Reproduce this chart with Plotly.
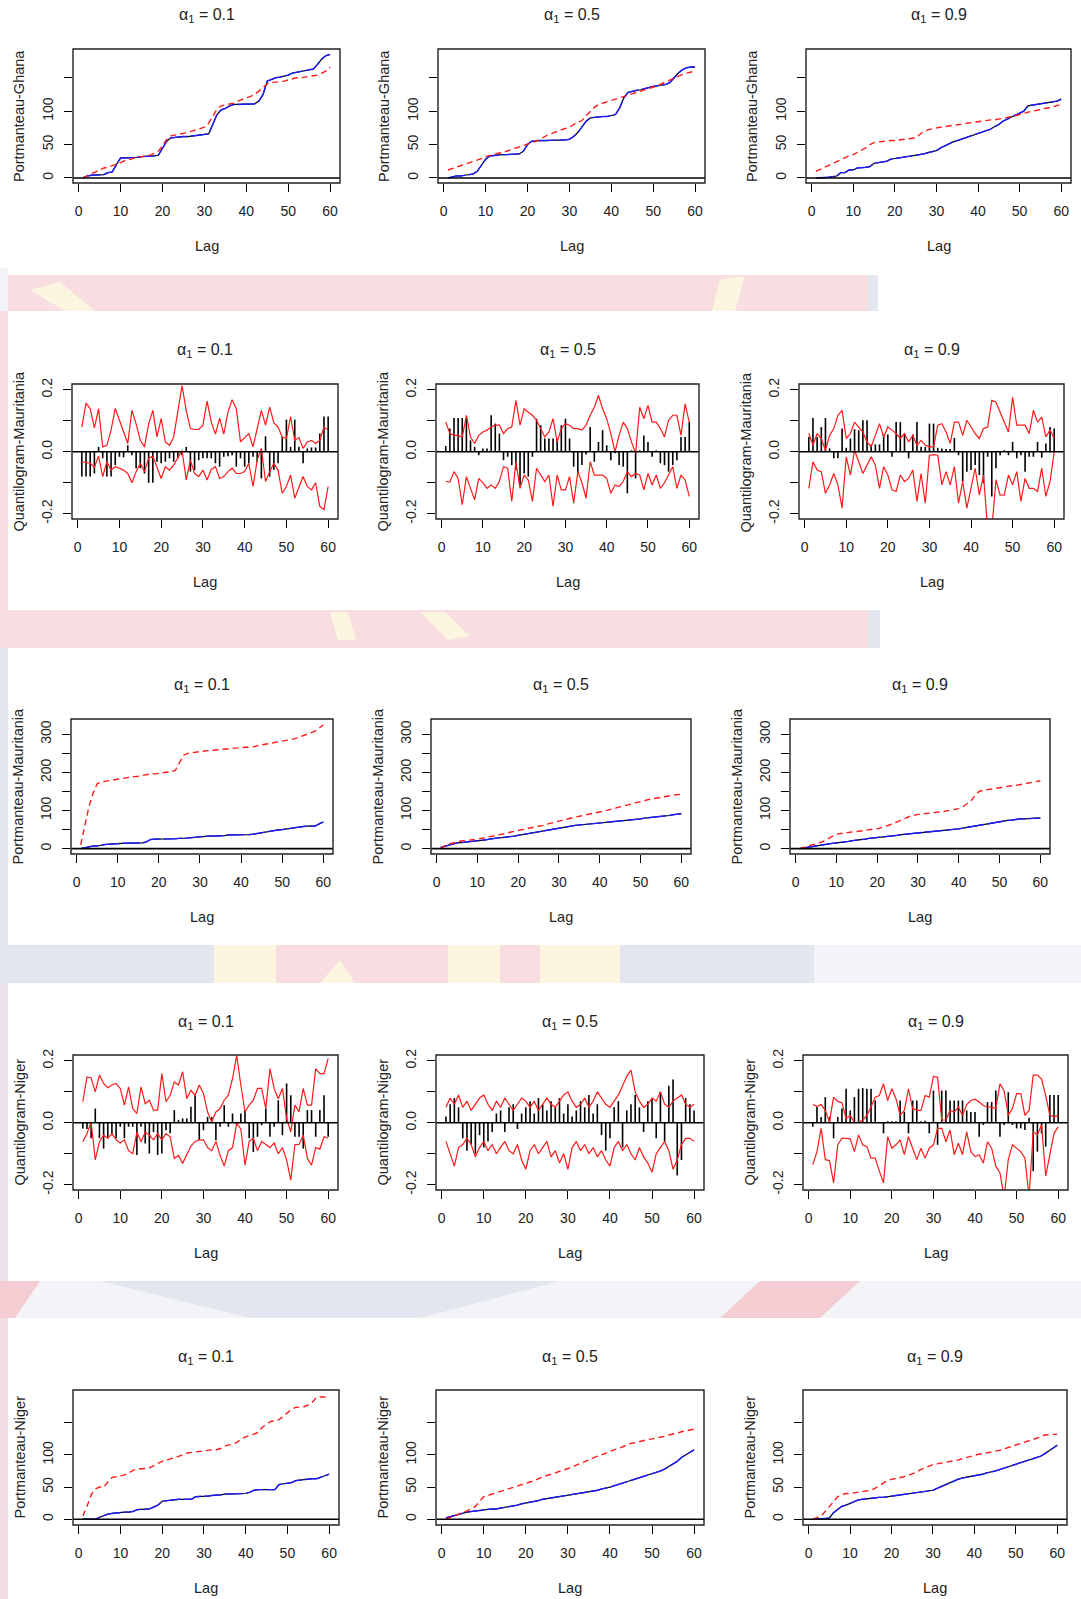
import plotly.graph_objects as go

W, H = 1081, 1599
FONT = "Liberation Sans, Arial, sans-serif"

lags = list(range(1, 61))
x_ticks = [0, 10, 20, 30, 40, 50, 60]
alphas = ["0.1", "0.5", "0.9"]

# ---------------- Portmanteau Ghana ----------------
ghana_pm_01_stat = [0,3,4,4,4,5,8,9,20,30, 30,30,31,31,32,32,32,33,34,45, 55,60,61,61,62,62,63,64,65,65,
                    66,80,95,102,104,108,110,110,110,110, 110,111,115,125,145,148,150,151,152,154, 157,158,159,160,161,163,170,178,183,185]
ghana_pm_01_crit = [0,3,6,9,12,15,16,18,20,23, 26,28,30,31,32,33,34,37,40,48, 58,63,64,65,66,68,70,72,73,76,
                    82,92,103,108,109,110,112,115,118,120, 122,125,130,136,141,143,143,144,145,147, 149,150,150,151,152,152,154,157,160,166]
ghana_pm_05_stat = [0,2,3,3,4,5,6,10,20,28, 33,34,34,35,35,35,35,36,40,50, 55,56,56,56,56,56,57,57,57,58,
                    62,68,77,85,90,91,91,92,92,93, 95,105,120,128,130,131,132,134,135,137, 138,139,140,143,150,157,162,165,166,166]
ghana_pm_05_crit = [12,14,16,18,20,22,25,27,29,32, 34,36,37,38,40,42,44,46,48,50, 53,55,58,62,65,67,70,72,74,76,
                    80,83,86,93,100,106,110,112,114,115, 117,119,121,123,125,127,129,131,133,135, 138,141,144,147,150,153,155,157,159,160]
ghana_pm_09_stat = [0,0,0,1,2,3,8,8,12,12, 15,15,16,17,22,23,24,25,28,29, 30,31,31,32,33,35,36,38,39,41,
                    45,48,52,54,56,58,60,62,64,66, 68,70,73,77,80,85,88,90,93,96, 100,108,109,110,111,112,112,113,115,118]
ghana_pm_09_crit = [10,13,16,19,22,25,28,30,33,35, 38,42,45,50,53,54,55,55,56,56, 57,58,58,59,60,65,70,72,74,75,
                    76,77,78,79,80,81,82,83,84,85, 86,86,87,87,88,89,90,92,93,95, 97,98,100,101,103,104,105,107,108,110]

# ---------------- Quantilogram Mauritania ----------------
maur_q_01_bar = [-0.08,-0.08,-0.08,-0.07,0.016,-0.021,-0.08,-0.08,-0.043,-0.016, -0.018,0.021,-0.011,-0.053,-0.053,-0.07,-0.10,-0.10,-0.032,-0.037,
                 -0.032,-0.021,-0.032,-0.021,-0.011,0.016,-0.064,-0.059,-0.027,-0.021, -0.021,-0.021,-0.037,-0.048,-0.016,-0.014,-0.011,-0.048,-0.021,-0.048,
                 -0.037,-0.016,-0.032,-0.086,0.05,-0.08,-0.059,-0.037,0.048,0.104, 0.016,0.104,0.016,-0.037,0.011,0.014,0.014,0.059,0.114,0.114]
maur_q_01_up = [0.080,0.157,0.139,0.077,0.139,0.016,0.021,0.07,0.14,0.10, 0.06,0.027,0.134,0.09,0.037,0.016,0.09,0.134,0.048,0.107,
                0.032,0.021,0.048,0.134,0.214,0.134,0.075,0.072,0.072,0.086, 0.164,0.096,0.057,0.109,0.057,0.128,0.168,0.139,0.032,0.046,
                0.059,0.016,0.07,0.134,0.086,0.144,0.093,0.08,0.048,0.043, 0.114,0.037,0.046,0.011,0.032,0.037,0.027,0.037,0.08,0.07]
maur_q_01_lo = [-0.032,-0.035,-0.037,-0.05,-0.014,-0.08,-0.032,-0.059,-0.048,-0.053, -0.059,-0.07,-0.10,-0.064,-0.037,-0.064,-0.021,-0.014,-0.05,-0.086,
                -0.048,-0.059,-0.043,-0.021,0.005,-0.091,-0.027,-0.07,-0.08,-0.059, -0.091,-0.057,-0.048,-0.086,-0.08,-0.064,-0.053,-0.07,-0.07,-0.064,
                -0.037,-0.112,-0.027,0.011,-0.096,-0.064,-0.037,-0.059,-0.134,-0.112, -0.075,-0.15,-0.118,-0.08,-0.112,-0.123,-0.10,-0.176,-0.187,-0.112]
maur_q_05_bar = [0.019,0.075,0.109,0.109,0.109,0.109,0.037,0.016,-0.011,0.011, 0.011,0.118,0.091,0.059,-0.027,-0.016,-0.043,-0.059,-0.107,-0.07,
                 -0.08,-0.016,0.107,0.086,0.043,0.043,0.043,0.043,0.086,0.107, 0.043,-0.048,-0.07,-0.043,-0.009,0.08,-0.032,0.032,0.07,0.021,
                 -0.027,-0.005,-0.043,-0.048,-0.134,0.005,-0.086,0.005,0.053,0.032, -0.016,0.005,-0.037,-0.043,-0.064,-0.043,-0.027,0.048,0.048,0.096]
maur_q_05_up = [0.096,0.059,0.053,0.053,0.048,0.118,0.048,0.027,0.053,0.064, 0.07,0.08,0.086,0.086,0.059,0.075,0.08,0.166,0.086,0.139,
                0.128,0.118,0.102,0.075,0.048,0.064,0.107,0.032,0.075,0.091, 0.086,0.075,0.075,0.07,0.086,0.118,0.144,0.182,0.139,0.107,
                0.059,0.0,0.053,0.096,0.075,0.032,-0.005,0.144,0.107,0.15, 0.096,0.096,0.075,0.048,0.102,0.118,0.118,0.053,0.155,0.096]
maur_q_05_lo = [-0.096,-0.098,-0.064,-0.086,-0.171,-0.08,-0.118,-0.155,-0.086,-0.10, -0.118,-0.107,-0.118,-0.096,-0.048,-0.053,-0.16,-0.032,-0.118,-0.075,
                -0.091,-0.16,-0.053,-0.075,-0.096,-0.075,-0.176,-0.075,-0.123,-0.123, -0.08,-0.166,-0.064,-0.10,-0.15,-0.032,-0.075,-0.075,-0.075,-0.086,
                -0.134,-0.107,-0.112,-0.096,-0.064,-0.08,-0.07,-0.075,-0.123,-0.07, -0.107,-0.075,-0.118,-0.10,-0.075,-0.048,-0.118,-0.075,-0.091,-0.144]
maur_q_09_bar = [0.048,0.109,0.048,0.08,0.109,0.011,-0.021,-0.021,0.075,0.013, 0.043,0.073,0.07,0.102,0.102,0.024,0.024,0.024,0.056,0.056,
                 -0.016,0.096,0.096,0.059,-0.021,0.056,0.096,0.016,0.016,0.091, 0.091,0.013,0.011,0.009,0.009,0.045,-0.011,-0.096,-0.064,-0.059,
                 -0.043,-0.075,-0.102,-0.016,-0.144,-0.053,-0.011,0.005,-0.011,0.032, -0.021,-0.011,-0.064,-0.016,-0.016,0.032,-0.019,0.027,0.08,0.075]
maur_q_09_up = [0.059,0.021,0.059,0.043,0.005,0.053,0.075,0.118,0.134,0.043, 0.059,0.096,0.08,0.064,0.032,0.016,0.053,0.091,0.048,0.08,
                0.07,0.059,0.043,0.059,0.032,0.053,0.021,0.037,0.021,0.016, 0.016,0.086,0.091,0.064,0.027,0.096,0.096,0.053,0.102,0.08,
                0.059,0.043,0.075,0.08,0.166,0.16,0.128,0.096,0.064,0.176, 0.086,0.086,0.086,0.059,0.134,0.096,0.112,0.048,0.07,0.043]
maur_q_09_lo = [-0.118,-0.032,-0.059,-0.064,-0.134,-0.107,-0.07,-0.107,-0.182,-0.016, -0.075,0.005,-0.032,-0.07,-0.043,-0.016,-0.043,-0.118,-0.048,-0.075,
                -0.123,-0.128,-0.075,-0.096,-0.086,-0.059,-0.16,-0.07,-0.166,-0.011, -0.009,-0.011,-0.107,-0.064,-0.107,-0.048,-0.166,-0.096,-0.182,-0.118,
                -0.053,-0.139,-0.075,-0.25,-0.25,-0.09,-0.14,-0.139,-0.075,-0.107, -0.064,-0.16,-0.086,-0.118,-0.118,-0.128,-0.053,-0.144,-0.096,0.0]

# ---------------- Portmanteau Mauritania ----------------
maur_pm_01_stat = [0,3,6,7,7,10,11,12,12,13, 14,14,15,15,15,15,18,24,25,25, 25,25,25,26,27,27,28,29,30,32,
                   33,33,33,33,34,34,36,36,37,37, 37,37,38,40,43,45,45,47,49,50, 52,54,55,56,58,59,59,59,65,70]
maur_pm_01_crit = [10,60,110,145,170,175,177,178,180,182, 183,185,187,189,190,192,195,196,196,197, 199,200,202,205,225,245,250,252,254,255,
                   256,257,258,259,260,262,263,264,265,265, 266,266,267,270,272,274,276,278,280,282, 283,285,288,292,296,300,303,308,316,325]
maur_pm_05_stat = [3,6,9,12,15,16,17,18,19,20, 22,23,25,27,28,29,30,32,33,35, 37,39,41,43,45,47,49,51,53,55,
                   56,58,59,61,62,63,64,65,67,68, 69,70,70,71,72,73,74,76,77,78, 80,81,82,84,85,86,87,89,90,92]
maur_pm_05_crit = [0,8,12,15,18,20,21,22,24,25, 27,29,31,33,35,37,40,43,46,48, 50,52,54,56,58,61,64,67,70,72,
                   75,78,80,83,85,87,89,91,93,95, 98,101,104,107,110,113,116,119,122,125, 127,129,131,133,135,137,139,141,142,142]
maur_pm_09_stat = [0,2,4,6,8,9,11,12,14,15, 16,18,19,21,22,24,25,27,28,30, 31,32,33,34,35,37,38,39,41,42,
                   43,44,45,46,47,48,49,50,51,52, 54,56,58,60,62,64,66,68,70,72, 73,74,75,77,78,78,79,79,80,80]
maur_pm_09_crit = [0,3,6,9,12,16,20,25,32,38, 40,41,42,44,45,47,48,50,51,52, 55,58,62,66,70,75,80,85,88,90,
                   91,92,93,94,95,97,99,101,103,105, 110,117,125,140,150,153,155,157,158,160, 162,163,165,166,168,170,172,174,176,178]

# ---------------- Quantilogram Niger ----------------
niger_q_01_bar = [-0.018,-0.02,-0.05,0.046,-0.05,-0.083,-0.05,-0.04,-0.05,-0.013, -0.05,-0.013,-0.013,-0.104,-0.013,-0.067,-0.099,-0.03,-0.104,-0.099,
                  -0.024,-0.034,0.041,0.009,0.014,0.014,0.052,0.089,-0.056,-0.024, 0.019,0.019,-0.056,-0.013,0.057,-0.013,0.03,-0.008,0.03,0.041,
                  -0.05,-0.094,-0.045,-0.008,0.046,-0.045,-0.013,0.073,-0.04,0.127, 0.089,-0.045,-0.045,-0.083,0.041,0.041,-0.045,0.041,0.089,-0.045]
niger_q_01_up = [0.068,0.148,0.145,0.1,0.154,0.127,0.113,0.122,0.127,0.111, 0.057,0.116,0.046,0.03,0.116,0.062,0.073,0.041,0.041,0.159,
                 0.068,0.089,0.132,0.122,0.165,0.078,0.105,0.089,0.122,0.095, 0.035,0.003,0.035,0.046,0.073,0.089,0.143,0.218,0.122,0.035,
                 0.057,0.073,0.111,0.111,0.046,0.175,0.111,0.078,0.111,0.014, -0.029,0.057,0.035,0.111,0.057,0.057,0.175,0.159,0.159,0.208]
niger_q_01_lo = [-0.061,-0.035,0.003,-0.12,-0.061,-0.04,-0.05,-0.035,-0.055,-0.065, -0.055,-0.09,-0.10,-0.03,-0.061,-0.03,-0.04,-0.055,-0.035,-0.055,
                 -0.035,-0.045,-0.115,-0.105,-0.131,-0.105,-0.075,-0.06,-0.055,-0.055, -0.08,-0.09,-0.06,-0.105,-0.14,-0.09,-0.08,-0.002,-0.02,-0.137,
                 -0.06,-0.05,-0.09,-0.06,-0.07,-0.08,-0.065,-0.1,-0.08,-0.12, -0.185,-0.07,-0.07,-0.04,-0.115,-0.137,-0.08,-0.085,-0.045,-0.05]
niger_q_05_bar = [0.02,0.06,0.08,0.05,-0.05,-0.09,-0.07,-0.10,-0.04,-0.08, -0.06,-0.03,0.03,0.04,-0.03,0.05,0.06,-0.02,0.03,0.05,
                  0.07,0.03,0.08,0.06,0.04,0.07,0.05,0.08,0.03,0.06, 0.02,0.04,0.07,0.05,0.09,0.03,0.06,-0.04,-0.09,-0.05,
                  0.05,0.07,-0.08,0.04,0.06,0.09,0.05,-0.03,0.07,0.08, -0.05,0.10,-0.06,0.12,0.14,-0.17,-0.12,0.08,0.06,0.04]
niger_q_05_up = [0.05,0.08,0.06,0.09,0.05,0.07,0.04,0.06,0.08,0.09, 0.06,0.04,0.07,0.05,0.08,0.06,0.04,0.06,0.08,0.07,
                 0.05,0.07,0.04,0.06,0.08,0.06,0.05,0.07,0.09,0.10, 0.07,0.05,0.06,0.08,0.05,0.07,0.10,0.08,0.06,0.05,
                 0.07,0.09,0.12,0.15,0.17,0.10,0.07,0.05,0.06,0.08, 0.07,0.10,0.06,0.05,0.07,0.08,0.09,0.06,0.05,0.06]
niger_q_05_lo = [-0.06,-0.10,-0.14,-0.08,-0.07,-0.05,-0.07,-0.11,-0.08,-0.06, -0.09,-0.07,-0.10,-0.08,-0.06,-0.09,-0.10,-0.07,-0.12,-0.15,
                 -0.09,-0.07,-0.10,-0.08,-0.06,-0.11,-0.09,-0.13,-0.10,-0.15, -0.08,-0.06,-0.09,-0.07,-0.10,-0.08,-0.11,-0.09,-0.12,-0.14,
                 -0.08,-0.06,-0.09,-0.07,-0.10,-0.12,-0.08,-0.11,-0.13,-0.16, -0.10,-0.08,-0.06,-0.09,-0.15,-0.12,-0.07,-0.05,-0.05,-0.06]
niger_q_09_bar = [-0.013,0.051,0.019,0.083,0.019,-0.05,0.019,0.046,0.11,0.04, 0.083,0.11,0.112,0.11,0.11,0.072,0.001,-0.034,0.005,0.005,
                  0.005,0.072,0.035,-0.034,0.072,0.072,0.005,0.007,-0.034,0.104, -0.071,0.104,0.104,0.072,0.072,0.072,0.072,0.04,0.035,0.035,
                  -0.045,-0.007,0.067,0.067,0.104,-0.045,-0.007,0.099,-0.007,-0.018, -0.018,-0.023,0.016,-0.156,-0.093,-0.034,-0.077,0.09,0.09,0.09]
niger_q_09_up = [0.059,0.053,0.059,0.04,0.003,0.083,0.069,0.065,0.014,0.024, 0.001,0.001,0.009,0.024,0.051,0.083,0.088,0.126,0.072,0.11,
                 0.078,0.024,0.04,0.11,0.046,0.04,0.04,0.088,0.083,0.15, 0.147,0.009,0.009,0.04,0.035,0.051,0.024,0.059,0.072,0.076,
                 0.067,0.056,0.051,0.051,0.046,0.126,0.104,0.024,0.046,0.094, 0.094,0.024,0.04,0.154,0.154,0.141,0.088,0.024,0.019,0.024]
niger_q_09_lo = [-0.135,-0.093,-0.018,-0.119,-0.122,-0.194,-0.071,-0.05,-0.05,-0.052, -0.093,-0.039,-0.071,-0.077,-0.114,-0.114,-0.156,-0.194,-0.045,-0.082,
                 -0.071,-0.055,-0.103,-0.045,-0.082,-0.119,-0.082,-0.114,-0.082,-0.071, -0.018,-0.018,-0.061,-0.023,-0.103,-0.066,-0.103,-0.029,-0.093,-0.109,
                 -0.103,-0.13,-0.061,-0.082,-0.14,-0.162,-0.24,-0.119,-0.071,-0.082, -0.093,-0.114,-0.24,-0.029,-0.039,-0.007,-0.172,-0.103,-0.034,-0.013]

# ---------------- Portmanteau Niger ----------------
niger_pm_01_stat = [0,0,0,0,3,6,8,9,10,10, 11,11,12,15,15,16,16,19,22,28, 29,30,30,31,31,31,31,35,35,36,
                    36,37,37,38,39,39,40,40,40,40, 42,45,46,46,46,46,46,54,55,56, 57,60,61,62,63,63,63,65,67,70]
niger_pm_01_crit = [5,20,38,47,50,50,58,65,66,67, 69,72,76,78,78,79,80,84,87,90, 92,94,95,98,100,103,104,105,106,107,
                    108,108,108,110,114,115,117,120,125,128, 130,132,135,143,148,152,153,155,160,165, 171,174,174,175,178,182,190,190,190,190]
niger_pm_05_stat = [2,4,6,8,10,11,12,13,14,15, 15,16,16,17,18,19,21,22,24,25, 26,28,29,31,32,33,34,36,37,38,
                    39,40,40,41,42,44,45,47,48,50, 52,54,56,58,60,62,64,66,68,70, 72,75,78,82,85,90,96,100,105,108]
niger_pm_05_crit = [0,2,5,8,10,13,16,20,28,35, 37,39,41,43,45,47,49,51,53,55, 58,60,63,66,68,70,72,74,76,78,
                    81,84,87,90,92,95,98,100,103,105, 108,110,113,116,118,119,121,122,124,125, 126,128,129,131,132,134,136,137,139,140]
niger_pm_09_stat = [0,0,1,1,2,10,15,20,22,25, 28,30,31,32,33,33,34,34,35,35, 36,37,38,39,40,41,42,43,44,45,
                    48,51,54,57,60,62,64,65,67,68, 69,70,72,73,75,77,79,81,83,85, 87,89,91,93,95,98,102,106,110,115]
niger_pm_09_crit = [0,2,5,12,20,28,35,38,40,40, 41,42,43,44,45,48,52,55,60,62, 63,64,66,68,70,73,77,80,83,85,
                    86,87,88,89,90,92,94,96,98,100, 101,102,103,104,105,107,109,111,113,115, 117,119,121,123,125,128,131,132,132,132]

for _arr in [ghana_pm_01_stat, ghana_pm_01_crit, ghana_pm_05_stat, ghana_pm_05_crit, ghana_pm_09_stat, ghana_pm_09_crit,
             maur_q_01_bar, maur_q_01_up, maur_q_01_lo, maur_q_05_bar, maur_q_05_up, maur_q_05_lo,
             maur_q_09_bar, maur_q_09_up, maur_q_09_lo, maur_pm_01_stat, maur_pm_01_crit, maur_pm_05_stat,
             maur_pm_05_crit, maur_pm_09_stat, maur_pm_09_crit, niger_q_01_bar, niger_q_01_up, niger_q_01_lo,
             niger_q_05_bar, niger_q_05_up, niger_q_05_lo, niger_q_09_bar, niger_q_09_up, niger_q_09_lo,
             niger_pm_01_stat, niger_pm_01_crit, niger_pm_05_stat, niger_pm_05_crit, niger_pm_09_stat, niger_pm_09_crit]:
    assert len(_arr) == 60, len(_arr)

# y-axis set-ups per row type
ghana_pm_ticks = ([0, 50, 100, 150], ["0", "50", "100", ""])
maur_pm_ticks = ([0, 50, 100, 150, 200, 250, 300], ["0", "", "100", "", "200", "", "300"])
niger_pm_ticks = ([0, 50, 100, 150], ["0", "50", "100", ""])
quant_ticks = ([-0.2, -0.1, 0.0, 0.1, 0.2], ["-0.2", "", "0.0", "", "0.2"])

rows = [
    dict(kind="pm", ylabel="Portmanteau-Ghana", yrange=[-7.5, 193], ticks=ghana_pm_ticks, ybox=(49, 183),
         xboxes=[(73, 340), (438, 705), (806, 1071)],
         data=[(ghana_pm_01_stat, ghana_pm_01_crit), (ghana_pm_05_stat, ghana_pm_05_crit), (ghana_pm_09_stat, ghana_pm_09_crit)]),
    dict(kind="q", ylabel="Quantilogram-Mauritania", yrange=[-0.217, 0.219], ticks=quant_ticks, ybox=(384, 519),
         xboxes=[(72, 338), (436, 699), (799, 1064)],
         data=[(maur_q_01_bar, maur_q_01_up, maur_q_01_lo), (maur_q_05_bar, maur_q_05_up, maur_q_05_lo),
               (maur_q_09_bar, maur_q_09_up, maur_q_09_lo)]),
    dict(kind="pm", ylabel="Portmanteau-Mauritania", yrange=[-14, 340], ticks=maur_pm_ticks, ybox=(719, 854),
         xboxes=[(71, 333), (431, 691), (790, 1050)],
         data=[(maur_pm_01_stat, maur_pm_01_crit), (maur_pm_05_stat, maur_pm_05_crit), (maur_pm_09_stat, maur_pm_09_crit)]),
    dict(kind="q", ylabel="Quantilogram-Niger", yrange=[-0.217, 0.219], ticks=quant_ticks, ybox=(1055, 1190),
         xboxes=[(73, 338), (436, 704), (803, 1068)],
         data=[(niger_q_01_bar, niger_q_01_up, niger_q_01_lo), (niger_q_05_bar, niger_q_05_up, niger_q_05_lo),
               (niger_q_09_bar, niger_q_09_up, niger_q_09_lo)]),
    dict(kind="pm", ylabel="Portmanteau-Niger", yrange=[-9, 201], ticks=niger_pm_ticks, ybox=(1390, 1525),
         xboxes=[(73, 339), (436, 704), (803, 1067)],
         data=[(niger_pm_01_stat, niger_pm_01_crit), (niger_pm_05_stat, niger_pm_05_crit), (niger_pm_09_stat, niger_pm_09_crit)]),
]


def px(x):
    return x / W


def py(y):
    return 1 - y / H


fig = go.Figure()
shapes = []
annotations = []
axes = {}

# ---------------- faded background (watermark bands) ----------------
PINK = "#f8dee1"
GREYBLUE = "#e3e6ee"
YELLOW = "#fcf6e0"
LIGHT = "#f3f4f7"


def rect(x0, y0, x1, y1, color):
    shapes.append(dict(type="rect", xref="paper", yref="paper", x0=px(x0), x1=px(x1), y0=py(y1), y1=py(y0),
                       fillcolor=color, line=dict(width=0), layer="below"))


def poly(points, color):
    d = "M " + " L ".join(f"{px(a)},{py(b)}" for a, b in points) + " Z"
    shapes.append(dict(type="path", xref="paper", yref="paper", path=d, fillcolor=color,
                       line=dict(width=0), layer="below"))


rect(0, 268, 8, 311, LIGHT)
rect(8, 275, 868, 311, PINK)
rect(868, 275, 878, 311, GREYBLUE)
poly([(30, 290), (60, 282), (95, 311), (65, 311)], YELLOW)
poly([(720, 280), (745, 276), (735, 311), (712, 311)], YELLOW)
rect(0, 311, 8, 648, PINK)
rect(8, 610, 868, 648, PINK)
rect(868, 610, 880, 648, GREYBLUE)
poly([(330, 612), (348, 612), (356, 640), (338, 640)], YELLOW)
poly([(420, 612), (445, 612), (470, 636), (448, 640)], YELLOW)
rect(0, 648, 8, 945, GREYBLUE)
rect(0, 945, 214, 983, GREYBLUE)
rect(214, 945, 276, 983, YELLOW)
rect(276, 945, 448, 983, PINK)
poly([(320, 983), (340, 960), (355, 983)], YELLOW)
rect(448, 945, 620, 983, YELLOW)
rect(500, 945, 540, 983, PINK)
rect(620, 945, 814, 983, GREYBLUE)
rect(814, 945, 1081, 983, LIGHT)
rect(0, 983, 8, 1281, "#ece4ea")
rect(0, 1281, 1081, 1318, LIGHT)
poly([(0, 1281), (40, 1281), (15, 1318), (0, 1318)], "#f3cdd1")
poly([(100, 1281), (560, 1281), (420, 1318), (250, 1318)], GREYBLUE)
poly([(760, 1281), (860, 1281), (820, 1318), (720, 1318)], "#f3cdd1")
rect(0, 1318, 8, 1599, "#f3dde3")

# ---------------- panels ----------------
idx = 0
for r, row in enumerate(rows):
    yb0, yb1 = row["ybox"]
    tickvals, ticktext = row["ticks"]
    for c in range(3):
        idx += 1
        xb0, xb1 = row["xboxes"][c]
        xn = "x" if idx == 1 else f"x{idx}"
        yn = "y" if idx == 1 else f"y{idx}"
        xa = "xaxis" if idx == 1 else f"xaxis{idx}"
        ya = "yaxis" if idx == 1 else f"yaxis{idx}"
        axes[xa] = dict(domain=[px(xb0), px(xb1)], anchor=yn, range=[-1.36, 62.36],
                        tickmode="array", tickvals=x_ticks, ticktext=[str(v) for v in x_ticks],
                        ticks="outside", ticklen=8, tickwidth=1, tickcolor="black",
                        showgrid=False, zeroline=False, showline=False, fixedrange=True,
                        ticklabelstandoff=7, automargin=False,
                        tickfont=dict(family=FONT, size=14, color="#222222"))
        axes[ya] = dict(domain=[py(yb1), py(yb0)], anchor=xn, range=row["yrange"],
                        tickmode="array", tickvals=tickvals, ticktext=ticktext, tickangle=-90,
                        ticks="outside", ticklen=8, tickwidth=1, tickcolor="black",
                        showgrid=False, zeroline=False, showline=False, fixedrange=True,
                        ticklabelstandoff=5, automargin=False,
                        tickfont=dict(family=FONT, size=14, color="#222222"))
        data = row["data"][c]
        if row["kind"] == "pm":
            stat, crit = data
            fig.add_trace(go.Scatter(x=lags, y=stat, mode="lines", xaxis=xn, yaxis=yn,
                                     line=dict(color="black", width=1.2), showlegend=False, hoverinfo="skip"))
            fig.add_trace(go.Scatter(x=lags, y=stat, mode="lines", xaxis=xn, yaxis=yn,
                                     line=dict(color="#1c1cff", width=1.4, dash="18px,3px"), showlegend=False, hoverinfo="skip"))
            fig.add_trace(go.Scatter(x=lags, y=crit, mode="lines", xaxis=xn, yaxis=yn,
                                     line=dict(color="#ff1a1a", width=1.4, dash="6px,4px"), showlegend=False, hoverinfo="skip"))
        else:
            bar, up, lo = data
            bx, byv = [], []
            for k, v in zip(lags, bar):
                bx += [k, k, None]
                byv += [0, v, None]
            fig.add_trace(go.Scatter(x=bx, y=byv, mode="lines", xaxis=xn, yaxis=yn,
                                     line=dict(color="black", width=1.6), showlegend=False, hoverinfo="skip"))
            fig.add_trace(go.Scatter(x=lags, y=up, mode="lines", xaxis=xn, yaxis=yn,
                                     line=dict(color="#ff1a1a", width=1.2), showlegend=False, hoverinfo="skip"))
            fig.add_trace(go.Scatter(x=lags, y=lo, mode="lines", xaxis=xn, yaxis=yn,
                                     line=dict(color="#ff1a1a", width=1.2), showlegend=False, hoverinfo="skip"))
        # zero line
        shapes.append(dict(type="line", xref=f"{xn} domain", yref=yn, x0=0, x1=1, y0=0, y1=0,
                           line=dict(color="black", width=1.6)))
        # box
        shapes.append(dict(type="rect", xref=f"{xn} domain", yref=f"{yn} domain", x0=0, x1=1, y0=0, y1=1,
                           line=dict(color="#222222", width=1.4)))
        cx = (xb0 + xb1) / 2
        annotations.append(dict(text=f"\u03b1<sub>1</sub> = {alphas[c]}", xref="paper", yref="paper",
                                x=px(cx), y=py(yb0 - 33), showarrow=False, xanchor="center", yanchor="middle",
                                font=dict(family=FONT, size=16, color="#222222")))
        annotations.append(dict(text="Lag", xref="paper", yref="paper", x=px(cx), y=py(yb1 + 63),
                                showarrow=False, xanchor="center", yanchor="middle",
                                font=dict(family=FONT, size=14.5, color="#222222")))
        annotations.append(dict(text=row["ylabel"], xref="paper", yref="paper", x=px(xb0 - 54),
                                y=py((yb0 + yb1) / 2), textangle=-90, showarrow=False,
                                xanchor="center", yanchor="middle",
                                font=dict(family=FONT, size=14.5, color="#222222")))

fig.update_layout(width=W, height=H, margin=dict(l=0, r=0, t=0, b=0, pad=0, autoexpand=False), autosize=False,
                  paper_bgcolor="white", plot_bgcolor="rgba(0,0,0,0)",
                  shapes=shapes, annotations=annotations, showlegend=False, **axes)
fig.write_html("out.html", config={"displayModeBar": False},
               post_script="document.documentElement.style.margin='0';document.body.style.margin='0';"
                           "document.body.style.padding='0';document.body.style.overflow='hidden';")
